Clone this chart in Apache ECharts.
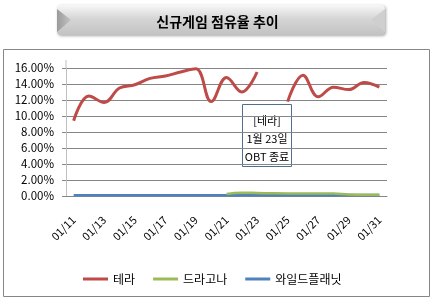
<!DOCTYPE html>
<html>
<head>
<meta charset="utf-8">
<script src="https://cdn.jsdelivr.net/npm/echarts@6/dist/echarts.min.js"></script>
<style>html,body{margin:0;padding:0;background:#fff}#c{width:435px;height:301px}</style>
</head>
<body>
<div id="c"></div>
<script>
var categories = ['01/11','01/12','01/13','01/14','01/15','01/16','01/17','01/18','01/19','01/20','01/21','01/22','01/23','01/24','01/25','01/26','01/27','01/28','01/29','01/30','01/31'];
var tera = [9.4,12.5,11.7,13.5,13.9,14.7,15.0,15.5,15.9,11.8,14.8,13.0,15.5,null,11.8,15.1,12.4,13.6,13.3,14.2,13.6];
var dragona = [null,null,null,null,null,null,null,null,null,null,0.25,0.42,0.38,0.34,0.32,0.32,0.32,0.3,0.2,0.16,0.16];
var wildplanet = [0.1,0.1,0.1,0.1,0.1,0.1,0.1,0.1,0.1,0.1,0.1,0.1,0.1,0.1,0.1,0.1,0.1,0.1,0.12,0.12,0.12];
var yTicks = [0,2,4,6,8,10,12,14,16];
var titleText = '신규게임 점유율 추이';
var noteLines = ['[테라]','1월 23일','OBT 종료'];

var font = '"Noto Sans CJK KR", "Noto Sans", sans-serif';
var chart = echarts.init(document.getElementById('c'), null, {renderer:'canvas'});
chart.setOption({
  animation:false,
  textStyle:{fontFamily:font},
  grid:{left:66, right:48, top:68, bottom:105},
  legend:{
    left:78, top:268, itemWidth:25, itemHeight:3, itemGap:18,
    icon:'rect',
    textStyle:{fontSize:12, color:'#000', fontFamily:font},
    data:['테라','드라고나','와일드플래닛']
  },
  xAxis:{
    type:'category', data:categories, boundaryGap:true,
    axisLine:{lineStyle:{color:'#868686', width:1}},
    axisTick:{interval:1, length:4, lineStyle:{color:'#868686'}},
    axisLabel:{interval:1, rotate:45, fontSize:11, color:'#000', margin:22, fontFamily:font, padding:[0,0,0,0]}
  },
  yAxis:{
    type:'value', min:0, max:16, interval:2,
    axisLine:{show:true, lineStyle:{color:'#bfbfbf'}},
    axisTick:{show:true, length:4, lineStyle:{color:'#868686'}},
    axisLabel:{fontSize:11.5, color:'#000', margin:12, fontFamily:font,
      formatter:function(v){ return yTicks.indexOf(v) >= 0 ? v.toFixed(2)+'%' : ''; }},
    splitLine:{lineStyle:{color:'#868686'}}
  },
  series:[
    {name:'테라', type:'line', data:tera, smooth:0.4, symbol:'none', lineStyle:{width:3, color:'#be4b48'}, itemStyle:{color:'#be4b48'}, z:3},
    {name:'드라고나', type:'line', data:dragona, smooth:0.4, symbol:'none', lineStyle:{width:2.5, color:'#9bbb59'}, itemStyle:{color:'#9bbb59'}, z:2},
    {name:'와일드플래닛', type:'line', data:wildplanet, smooth:0.4, symbol:'none', lineStyle:{width:2.5, color:'#4f81bd'}, itemStyle:{color:'#4f81bd'}, z:1}
  ],
  graphic:[
    {type:'rect', shape:{x:3.5, y:49.5, width:426, height:247}, style:{fill:'none', stroke:'#868686', lineWidth:1}, z:-1},
    {type:'line', shape:{x1:66, y1:60, x2:66, y2:68}, style:{stroke:'#bfbfbf', lineWidth:1}},
    {type:'rect', shape:{x:57, y:5, width:328, height:30, r:4},
      style:{fill:new echarts.graphic.LinearGradient(0,0,0,1,[{offset:0,color:'#f7f7f7'},{offset:0.45,color:'#d6d6d6'},{offset:1,color:'#c2c2c2'}]),
        shadowBlur:3, shadowColor:'rgba(0,0,0,0.35)', shadowOffsetX:1, shadowOffsetY:1}},
    {type:'polygon', shape:{points:[[57,9],[71,20],[57,32]]}, style:{fill:new echarts.graphic.LinearGradient(0,0,1,0,[{offset:0,color:'#9a9a9a'},{offset:1,color:'#c4c4c4'}])}},
    {type:'polygon', shape:{points:[[385,9],[371,20],[385,32]]}, style:{fill:'#cfcfcf'}},
    {type:'text', left:'center', top:15, style:{text:titleText, font:'bold 14px '+font, fill:'#000', textAlign:'center'}},
    {type:'group', left:242, top:104, children:[
      {type:'rect', shape:{x:0.5, y:0.5, width:49, height:62}, style:{fill:'#fff', stroke:'#4f6f8f', lineWidth:1}},
      {type:'text', x:25, y:8, style:{text:noteLines.join('\n'), font:'11px '+font, fill:'#000', textAlign:'center', lineHeight:18}}
    ]}
  ]
});
</script>
</body>
</html>
